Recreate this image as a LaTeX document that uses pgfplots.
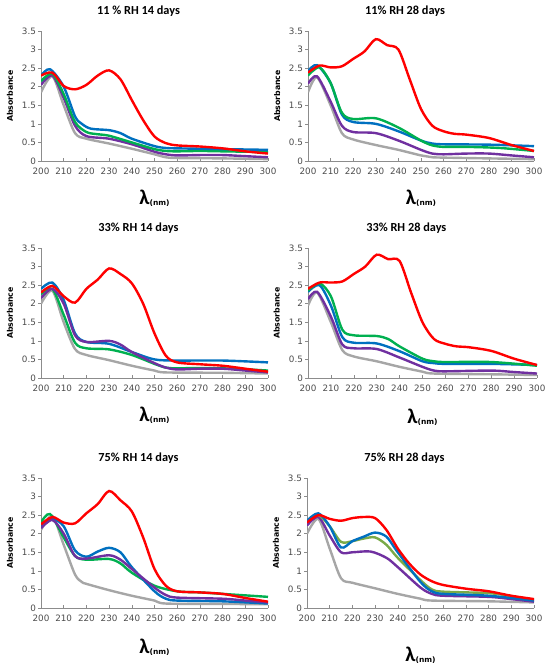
\documentclass[border=0pt]{standalone}
\usepackage{fontspec}
\setmainfont{Carlito}
\newfontfamily\tickfont{DejaVu Sans}
\usepackage{pgfplots}
\pgfplotsset{compat=1.18}
\definecolor{cred}{HTML}{FF0000}
\definecolor{cblue}{HTML}{0070C0}
\definecolor{cgreen}{HTML}{00B050}
\definecolor{colive}{HTML}{7AAA48}
\definecolor{cpurple}{HTML}{7030A0}
\definecolor{cgray}{HTML}{A6A6A6}
\pgfplotsset{
  panel/.style={
    scale only axis, width=227pt, height=130pt,
    xmin=200, xmax=300, ymin=0, ymax=3.5,
    xtick={200,210,...,300}, ytick={0,0.5,...,3.5},
    axis x line*=bottom, axis y line*=left,
    axis line style={draw=black!45, line width=0.6pt},
    xtick style={draw=black!45, line width=0.5pt},
    ytick style={draw=black!45, line width=0.5pt, xshift=-3pt},
    tick align=inside, major tick length=3pt,
    /pgf/number format/assume math mode=true,
    tick label style={font=\tickfont\fontsize{8.8}{9}\selectfont, color=black!70},
    yticklabel style={/pgf/number format/fixed, /pgf/number format/precision=1, xshift=-1.5pt},
    xticklabel style={yshift=-3pt},
    every axis title/.style={font=\bfseries\fontsize{12.3}{13}\selectfont, at={(axis description cs:0.4295,1.154)}, anchor=center},
    ylabel={Absorbance},
    every axis y label/.style={at={(axis description cs:-0.1366,0.5)}, rotate=90, anchor=center, font=\tickfont\bfseries\fontsize{7.8}{9}\selectfont},
    xlabel={{\fontsize{21}{21}\selectfont\bfseries λ}{\tickfont\bfseries\fontsize{7.5}{8}\selectfont\raisebox{-1pt}{(nm)}}},
    every axis x label/.style={at={(axis description cs:0.5,-0.285)}, anchor=center},
    every axis plot/.append style={line width=2.4pt, smooth, tension=0.5, no markers},
  }
}
\begin{document}
\begin{tikzpicture}[x=1pt,y=1pt]
\useasboundingbox (0,0) rectangle (550,667);
% ---------- Panel 1
\begin{axis}[panel, at={(41pt,506pt)}, anchor=south west, title={11 \% RH 14 days}]
\addplot[cgray] coordinates {(200,1.85)(205,2.28)(210,1.5)(215,0.75)(220,0.6)(230,0.47)(240,0.33)(250,0.18)(255,0.1)(260,0.08)(280,0.07)(300,0.05)};
\addplot[cpurple] coordinates {(200,2.05)(205,2.3)(210,1.7)(215,0.95)(220,0.67)(230,0.6)(240,0.45)(250,0.25)(255,0.18)(260,0.15)(270,0.16)(280,0.16)(290,0.13)(300,0.1)};
\addplot[cgreen] coordinates {(200,2.15)(205,2.35)(210,1.8)(215,1.05)(220,0.78)(225,0.72)(230,0.68)(240,0.5)(250,0.32)(255,0.27)(260,0.26)(270,0.27)(280,0.26)(300,0.24)};
\addplot[cblue] coordinates {(200,2.3)(204,2.47)(210,2.0)(215,1.2)(218,1.0)(222,0.87)(230,0.83)(235,0.75)(240,0.6)(250,0.4)(255,0.35)(260,0.34)(280,0.32)(300,0.3)};
\addplot[cred] coordinates {(200,2.3)(205,2.38)(210,2.02)(215,1.93)(220,2.05)(225,2.3)(230,2.44)(235,2.2)(240,1.64)(245,1.1)(250,0.66)(255,0.48)(260,0.42)(270,0.39)(280,0.34)(290,0.26)(300,0.2)};
\end{axis}
% ---------- Panel 2
\begin{axis}[panel, width=226pt, at={(308pt,506pt)}, anchor=south west, title={11\% RH 28 days}]
\addplot[cgray] coordinates {(200,1.85)(204,2.25)(210,1.5)(215,0.75)(220,0.58)(230,0.43)(240,0.3)(250,0.15)(255,0.1)(270,0.08)(300,0.05)};
\addplot[cpurple] coordinates {(200,2.08)(204,2.28)(210,1.6)(215,0.95)(220,0.78)(230,0.75)(240,0.55)(250,0.3)(255,0.2)(260,0.18)(270,0.2)(280,0.2)(290,0.15)(300,0.1)};
\addplot[cblue] coordinates {(200,2.42)(204,2.58)(210,2.1)(215,1.25)(220,1.05)(230,1.0)(240,0.8)(250,0.55)(255,0.47)(260,0.45)(280,0.44)(300,0.4)};
\addplot[cgreen] coordinates {(200,2.3)(205,2.52)(210,2.1)(215,1.3)(220,1.13)(230,1.15)(240,0.9)(250,0.55)(255,0.42)(260,0.38)(270,0.38)(285,0.35)(300,0.27)};
\addplot[cred] coordinates {(200,2.38)(205,2.57)(210,2.52)(215,2.55)(220,2.75)(225,2.95)(230,3.28)(235,3.12)(240,3.0)(245,2.2)(250,1.4)(255,0.95)(260,0.8)(265,0.73)(270,0.71)(280,0.62)(290,0.43)(300,0.27)};
\end{axis}
% ---------- Panel 3
\begin{axis}[panel, at={(41pt,289pt)}, anchor=south west, title={33\% RH 14 days}]
\addplot[cgray] coordinates {(200,2.0)(205,2.35)(210,1.5)(215,0.78)(220,0.62)(230,0.48)(240,0.33)(250,0.2)(255,0.15)(280,0.14)(300,0.12)};
\addplot[cgreen] coordinates {(200,2.25)(205,2.4)(210,1.7)(215,0.95)(220,0.8)(230,0.77)(240,0.62)(250,0.38)(255,0.28)(260,0.26)(270,0.27)(285,0.25)(300,0.2)};
\addplot[cblue] coordinates {(200,2.4)(205,2.57)(210,2.1)(215,1.2)(220,0.97)(230,0.92)(240,0.7)(250,0.5)(260,0.47)(280,0.47)(300,0.42)};
\addplot[cpurple] coordinates {(200,2.15)(205,2.4)(210,2.0)(215,1.15)(220,0.97)(230,1.0)(235,0.9)(240,0.7)(250,0.4)(255,0.28)(260,0.23)(270,0.25)(280,0.25)(290,0.2)(300,0.15)};
\addplot[cred] coordinates {(200,2.3)(205,2.48)(210,2.2)(215,2.03)(220,2.4)(225,2.65)(230,2.95)(235,2.8)(240,2.55)(245,2.0)(250,1.2)(255,0.6)(260,0.42)(270,0.37)(280,0.33)(290,0.25)(300,0.17)};
\end{axis}
% ---------- Panel 4
\begin{axis}[panel, width=229pt, at={(308pt,289pt)}, anchor=south west, title={33\% RH 28 days}, every axis x label/.style={at={(axis description cs:0.5,-0.3)}, anchor=center}]
\addplot[cgray] coordinates {(200,1.95)(204,2.3)(210,1.5)(215,0.75)(220,0.58)(230,0.45)(240,0.3)(250,0.17)(255,0.12)(280,0.1)(300,0.08)};
\addplot[cpurple] coordinates {(200,2.12)(204,2.32)(210,1.65)(215,0.9)(220,0.8)(230,0.78)(240,0.55)(250,0.3)(255,0.2)(260,0.18)(280,0.2)(290,0.16)(300,0.12)};
\addplot[cblue] coordinates {(200,2.32)(205,2.5)(210,1.95)(215,1.1)(220,0.95)(230,0.93)(240,0.72)(250,0.45)(255,0.4)(260,0.38)(280,0.38)(300,0.35)};
\addplot[cgreen] coordinates {(200,2.35)(205,2.55)(210,2.2)(215,1.3)(220,1.15)(230,1.13)(235,1.05)(240,0.85)(250,0.52)(255,0.45)(260,0.43)(280,0.43)(300,0.33)};
\addplot[cred] coordinates {(200,2.4)(205,2.57)(210,2.57)(215,2.6)(220,2.8)(225,3.0)(230,3.32)(235,3.2)(240,3.15)(245,2.3)(250,1.5)(255,1.05)(260,0.92)(265,0.85)(270,0.83)(280,0.73)(290,0.52)(300,0.35)};
\end{axis}
% ---------- Panel 5
\begin{axis}[panel, at={(41pt,59pt)}, anchor=south west, title={75\% RH 14 days}, every axis x label/.style={at={(axis description cs:0.5,-0.3)}, anchor=center}]
\addplot[cgray] coordinates {(200,2.1)(205,2.48)(210,1.7)(215,0.9)(218,0.7)(220,0.65)(230,0.48)(240,0.33)(250,0.2)(255,0.12)(280,0.11)(300,0.1)};
\addplot[cgreen] coordinates {(200,2.3)(204,2.53)(210,1.9)(215,1.4)(220,1.3)(230,1.32)(235,1.2)(240,0.95)(250,0.6)(260,0.45)(270,0.42)(280,0.38)(300,0.3)};
\addplot[cblue] coordinates {(200,2.2)(205,2.4)(210,2.2)(215,1.55)(220,1.38)(225,1.52)(230,1.62)(235,1.5)(240,1.1)(250,0.45)(255,0.25)(260,0.2)(280,0.18)(300,0.12)};
\addplot[cpurple] coordinates {(200,2.15)(205,2.37)(210,2.0)(215,1.4)(220,1.33)(230,1.42)(235,1.3)(240,1.05)(250,0.55)(255,0.35)(260,0.28)(280,0.25)(290,0.2)(300,0.15)};
\addplot[cred] coordinates {(200,2.25)(205,2.45)(210,2.3)(215,2.28)(220,2.55)(225,2.8)(230,3.15)(235,2.9)(240,2.6)(245,1.9)(250,1.05)(255,0.6)(260,0.45)(270,0.42)(280,0.38)(290,0.27)(300,0.17)};
\end{axis}
% ---------- Panel 6
\begin{axis}[panel, at={(307pt,59pt)}, anchor=south west, title={75\% RH 28 days}, every axis x label/.style={at={(axis description cs:0.5,-0.362)}, anchor=center}]
\addplot[cgray] coordinates {(200,2.0)(205,2.4)(210,1.6)(215,0.8)(220,0.68)(230,0.53)(240,0.38)(250,0.25)(255,0.2)(280,0.18)(300,0.15)};
\addplot[cpurple] coordinates {(200,2.22)(205,2.45)(210,1.95)(215,1.5)(220,1.5)(228,1.52)(235,1.35)(240,1.1)(250,0.55)(255,0.38)(260,0.33)(280,0.3)(290,0.24)(300,0.17)};
\addplot[colive] coordinates {(200,2.32)(205,2.5)(210,2.2)(215,1.78)(220,1.8)(225,1.87)(230,1.9)(235,1.7)(240,1.35)(250,0.75)(255,0.5)(260,0.44)(280,0.4)(290,0.32)(300,0.22)};
\addplot[cblue] coordinates {(200,2.35)(205,2.55)(210,2.2)(215,1.63)(220,1.8)(225,1.92)(230,2.03)(235,1.92)(240,1.5)(250,0.7)(255,0.45)(260,0.38)(280,0.33)(300,0.2)};
\addplot[cred] coordinates {(200,2.3)(205,2.5)(210,2.4)(215,2.35)(220,2.42)(225,2.45)(230,2.42)(235,2.1)(240,1.6)(245,1.2)(250,0.9)(255,0.72)(260,0.62)(270,0.52)(280,0.45)(290,0.33)(300,0.24)};
\end{axis}
\end{tikzpicture}
\end{document}
